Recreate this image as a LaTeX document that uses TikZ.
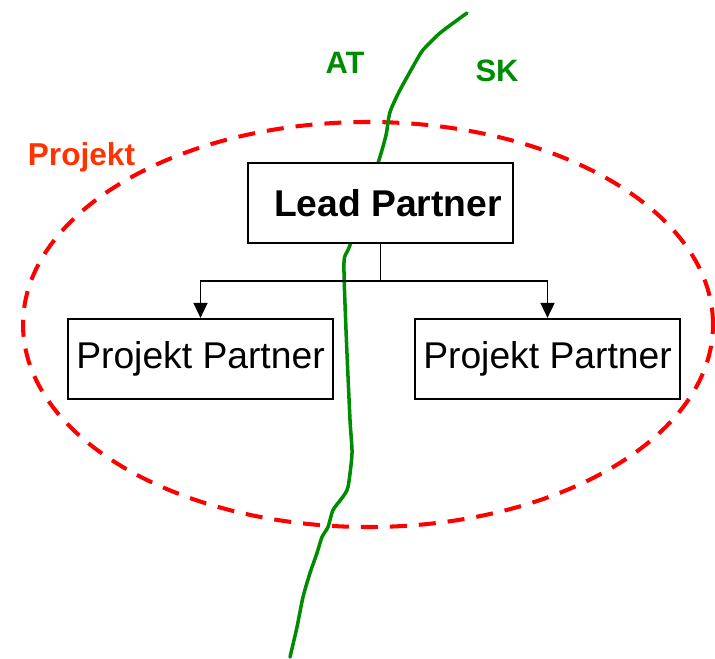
\documentclass[tikz,border=0pt]{standalone}
\usepackage{fontspec}
\setmainfont{Liberation Sans}
\usepackage{tikz}
\usetikzlibrary{arrows.meta,positioning}
\definecolor{borderGreen}{RGB}{0,140,0}
\definecolor{projRed}{RGB}{255,51,0}
\tikzset{
    >={Triangle[width=0.28cm,length=0.3cm]},
    pbox/.style={draw=black,line width=1pt,fill=white,minimum width=5.3cm,minimum height=1.6cm,inner sep=0pt,font=\fontsize{21.2}{25}\selectfont},
    country/.style={text=borderGreen,font=\fontsize{17.6}{21}\selectfont\bfseries},
    border/.style={draw=borderGreen,line width=2pt,line join=round,line cap=round},
}
\begin{document}
\begin{tikzpicture}
    \useasboundingbox (0,0) rectangle (14.3,-13.16);
        % project ellipse
        \draw[red,line width=2.3pt,dash pattern=on 0.34cm off 0.24cm] (7.36,-6.49) ellipse [x radius=6.9cm,y radius=4.05cm];
        \node[text=projRed,font=\fontsize{18}{21}\selectfont\bfseries] (proj) at (1.63,-3.14) {Projekt};

        % state border
        \draw[border] plot[smooth,tension=0.4] coordinates {
            (9.34,-0.26) (8.8,-0.66) (8.46,-1.0) (8.3,-1.26) (8.0,-1.8) (7.8,-2.24)
            (7.72,-2.7) (7.56,-3.26) (7.0,-4.9) (6.88,-5.24) (6.92,-6.6) (7.0,-8.4)
            (7.04,-9.06) (6.96,-9.74) (6.84,-9.96) (6.66,-10.2) (6.56,-10.54) (6.44,-10.74)
            (6.34,-11.06) (6.2,-11.46) (6.06,-11.94) (5.94,-12.54) (5.8,-13.14)};
        \node[country] (at) at (6.9,-1.26) {AT};
        \node[country] (sk) at (9.94,-1.42) {SK};

        % partners
        \node[pbox] (lead) at (7.61,-4.06) {\hspace{0.3cm}\bfseries Lead Partner};
        \node[pbox,below=1.48cm of lead,xshift=-3.6cm] (pl) {Projekt Partner};
        \node[pbox,below=1.48cm of lead,xshift=3.34cm] (pr) {Projekt Partner};

        \draw[line width=1pt] (lead.south) -- ++(0,-0.74) coordinate (fork);
        \draw[->,line width=1pt] (fork) -| (pl.north);
        \draw[->,line width=1pt] (fork) -| (pr.north);
\end{tikzpicture}
\end{document}
